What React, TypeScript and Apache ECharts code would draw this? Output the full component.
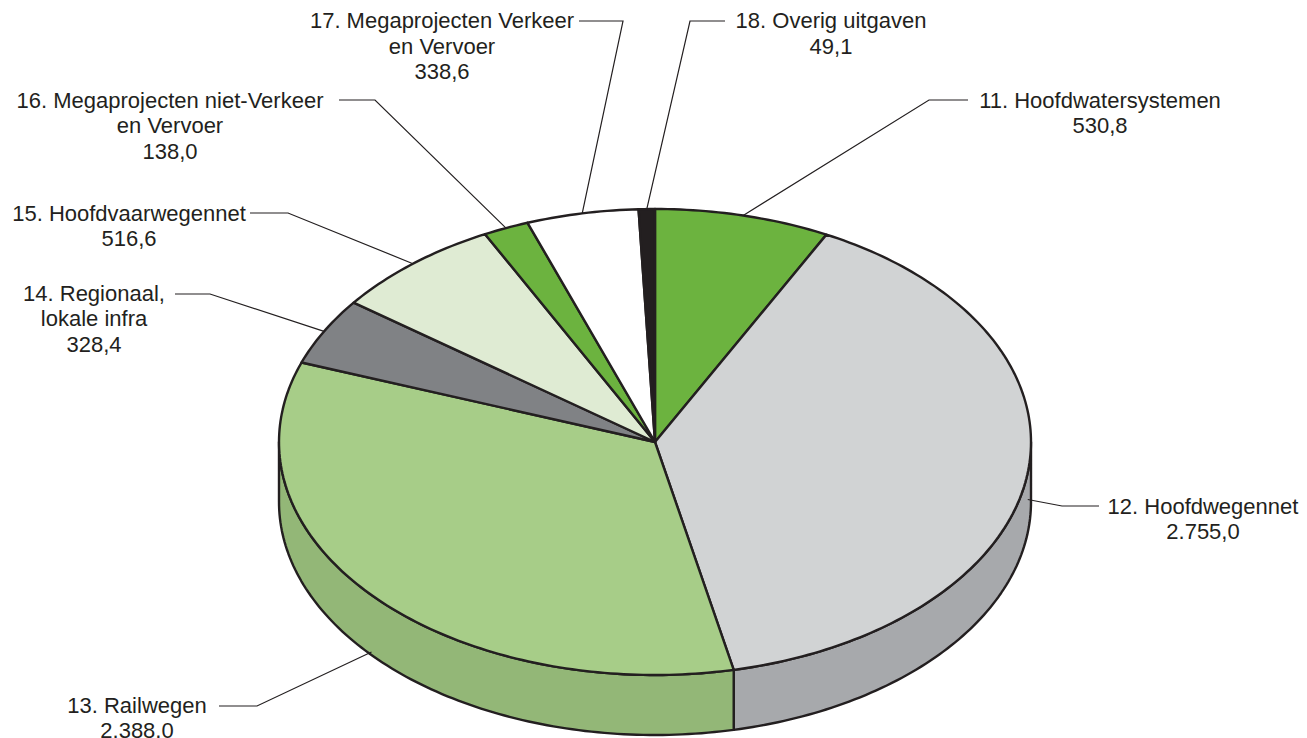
import React, { useEffect, useRef } from "react";
import * as echarts from "echarts";

// ---- Data ----
const CATEGORIES = [
  "11. Hoofdwatersystemen",
  "12. Hoofdwegennet",
  "13. Railwegen",
  "14. Regionaal,\nlokale infra",
  "15. Hoofdvaarwegennet",
  "16. Megaprojecten niet-Verkeer\nen Vervoer",
  "17. Megaprojecten Verkeer\nen Vervoer",
  "18. Overig uitgaven",
];
const VALUES = [530.8, 2755.0, 2388.0, 328.4, 516.6, 138.0, 338.6, 49.1];

// ---- Styles ----
const TOP_COLORS = ["#6cb33f", "#d1d3d4", "#a7cd88", "#808285", "#dfebd3", "#6cb33f", "#ffffff", "#231f20"];
const SIDE_COLORS = ["#5a9734", "#a7a9ac", "#93b777", "#6b6d70", "#c5d4b8", "#5a9734", "#d9d9d9", "#231f20"];
const INK = "#231f20";

// ---- Layout (geometry of the 3D pie and label placement) ----
const CX = 655;
const CY = 442;
const RX = 376;
const RY = 233;
const DEPTH = 60;
const FONT = '22px "Liberation Sans", Arial, sans-serif';
const LINE_H = 25.5;

// elbow / end of leader line, text center x, first-line center y, anchor depth fraction
const LABEL_LAYOUT = [
  { elbow: [929, 100], end: [968, 100], tx: 1100, ty: 100, d: 0 },
  { elbow: [1062, 506], end: [1099, 506], tx: 1203, ty: 506, d: 0.45 },
  { elbow: [257, 706], end: [219, 706], tx: 137, ty: 705, d: 0.95 },
  { elbow: [210, 294], end: [175, 294], tx: 94, ty: 293, d: 0 },
  { elbow: [288, 213], end: [250, 213], tx: 129, ty: 213, d: 0 },
  { elbow: [375, 100], end: [339, 100], tx: 170, ty: 100, d: 0 },
  { elbow: [623, 21], end: [579, 21], tx: 442, ty: 20.5, d: 0 },
  { elbow: [690, 21], end: [725, 21], tx: 831, ty: 20.5, d: 0 },
];

function fmt(v: number): string {
  const [i, d] = v.toFixed(1).split(".");
  return i.replace(/\B(?=(\d{3})+(?!\d))/g, ".") + "," + d;
}

const TOTAL = VALUES.reduce((a, b) => a + b, 0);
const CUM: number[] = [];
VALUES.reduce((acc, v, i) => {
  CUM[i] = acc;
  return acc + v;
}, 0);

function pt(theta: number, dz: number): number[] {
  return [CX + RX * Math.sin(theta), CY - RY * Math.cos(theta) + dz];
}

function arc(a1: number, a2: number, dz: number): number[][] {
  const n = Math.max(2, Math.ceil(((a2 - a1) * 180) / Math.PI));
  const out: number[][] = [];
  for (let k = 0; k <= n; k++) out.push(pt(a1 + ((a2 - a1) * k) / n, dz));
  return out;
}

function renderItem(params: any, api: any) {
  const i = params.dataIndex;
  const v = api.value(0);
  const start = (CUM[i] / TOTAL) * Math.PI * 2;
  const end = start + (v / TOTAL) * Math.PI * 2;
  const mid = (start + end) / 2;
  const children: any[] = [];

  const s1 = Math.max(start, Math.PI / 2);
  const s2 = Math.min(end, (Math.PI * 3) / 2);
  if (s2 > s1) {
    const pts = arc(s1, s2, 0).concat(arc(s1, s2, DEPTH).reverse());
    children.push({
      type: "polygon",
      shape: { points: pts },
      style: { fill: SIDE_COLORS[i], stroke: INK, lineWidth: 2.4, lineJoin: "round" },
    });
  }
  children.push({
    type: "polygon",
    shape: { points: [[CX, CY]].concat(arc(start, end, 0)) },
    style: { fill: TOP_COLORS[i], stroke: INK, lineWidth: 2.4, lineJoin: "round" },
  });

  const L = LABEL_LAYOUT[i];
  const anchor = pt(mid, DEPTH * L.d);
  children.push({
    type: "polyline",
    shape: { points: [anchor, L.elbow, L.end] },
    style: { stroke: INK, lineWidth: 1.2, fill: null },
  });
  children.push({
    type: "text",
    style: {
      text: CATEGORIES[i] + "\n" + fmt(v),
      x: L.tx,
      y: L.ty - LINE_H / 2,
      align: "center",
      verticalAlign: "top",
      font: FONT,
      lineHeight: LINE_H,
      fill: INK,
    },
  });
  return { type: "group", children };
}

export default function App() {
  const ref = useRef<HTMLDivElement>(null);
  useEffect(() => {
    if (!ref.current) return;
    const chart = echarts.init(ref.current, null, { renderer: "svg" });
    chart.setOption({
      animation: false,
      backgroundColor: "#ffffff",
      series: [
        {
          type: "custom",
          coordinateSystem: "none",
          silent: true,
          renderItem,
          data: VALUES.map((v, i) => ({ name: CATEGORIES[i], value: [v] })),
        },
      ],
    });
    return () => chart.dispose();
  }, []);
  return (
    <div
      ref={ref}
      style={{ position: "fixed", left: 0, top: 0, width: 1307, height: 738 }}
    />
  );
}
